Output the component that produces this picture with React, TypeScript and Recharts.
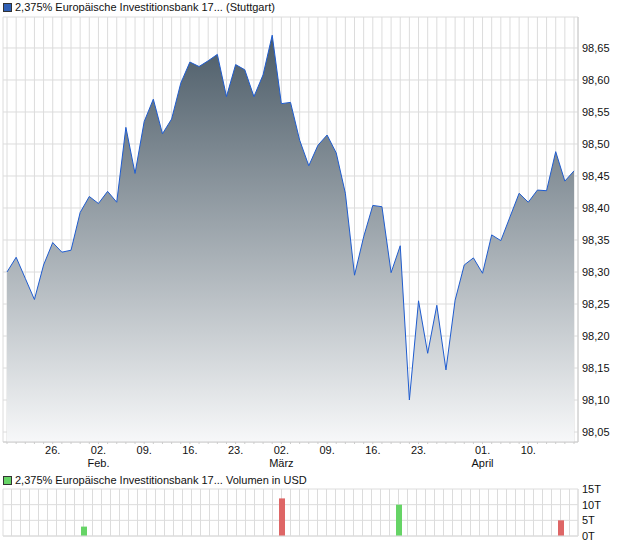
import React from "react";
import { Area, Bar, CartesianGrid, Cell, ComposedChart, XAxis, YAxis } from "recharts";

// trading days, Jan 19 – Apr 17
const dates = [
  "19.01", "20.01", "21.01", "22.01", "23.01", "26.01", "27.01", "28.01", "29.01", "30.01",
  "02.02", "03.02", "04.02", "05.02", "06.02", "09.02", "10.02", "11.02", "12.02", "13.02",
  "16.02", "17.02", "18.02", "19.02", "20.02", "23.02", "24.02", "25.02", "26.02", "27.02",
  "02.03", "03.03", "04.03", "05.03", "06.03", "09.03", "10.03", "11.03", "12.03", "13.03",
  "16.03", "17.03", "18.03", "19.03", "20.03", "23.03", "24.03", "25.03", "26.03", "27.03",
  "30.03", "31.03", "01.04", "02.04", "07.04", "08.04", "09.04", "10.04", "13.04", "14.04",
  "15.04", "16.04", "17.04",
];

const prices = [
  98.3, 98.323, 98.29, 98.257, 98.311, 98.346, 98.331, 98.334, 98.393, 98.418,
  98.407, 98.426, 98.409, 98.526, 98.454, 98.535, 98.57, 98.516, 98.539, 98.595,
  98.628, 98.621, 98.63, 98.64, 98.574, 98.624, 98.616, 98.574, 98.608, 98.67,
  98.563, 98.565, 98.506, 98.466, 98.498, 98.514, 98.486, 98.423, 98.295, 98.355,
  98.404, 98.402, 98.299, 98.341, 98.1, 98.255, 98.173, 98.248, 98.147, 98.256,
  98.311, 98.322, 98.298, 98.358, 98.349, 98.386, 98.423, 98.409, 98.428, 98.427,
  98.488, 98.442, 98.458,
];

const volumeDates = ["29.01", "02.03", "19.03", "16.04"];
const volumeValues = [3000, 12000, 10000, 5000];
const volumeUp = [true, false, true, false];

const priceTicks = [98.05, 98.1, 98.15, 98.2, 98.25, 98.3, 98.35, 98.4, 98.45, 98.5, 98.55, 98.6, 98.65];
const volumeTicks = [0, 5000, 10000, 15000];

const tickDates = ["26.01", "02.02", "09.02", "16.02", "23.02", "02.03", "09.03", "16.03", "23.03", "01.04", "10.04"];
const tickDays = ["26.", "02.", "09.", "16.", "23.", "02.", "09.", "16.", "23.", "01.", "10."];
const tickMonths = ["", "Feb.", "", "", "", "März", "", "", "", "April", ""];

const priceData = dates.map((d, i) => ({ date: d, price: prices[i] }));
const volumeData = dates.map((d) => {
  const k = volumeDates.indexOf(d);
  return { date: d, volume: k >= 0 ? volumeValues[k] : 0, up: k >= 0 ? volumeUp[k] : true };
});

const FONT = "'Liberation Sans', Arial, sans-serif";
const GRID = "#dcdcdc";
const AXIS = "#cccccc";
const PRICE_DOMAIN: [number, number] = [98.0344, 98.6984];

const DateTick = (props: any) => {
  const { x, y, payload } = props;
  const k = tickDates.indexOf(payload.value);
  if (k < 0) return <g />;
  return (
    <text x={x} y={y} textAnchor="middle" fontSize={11} fontFamily={FONT} fill="#111">
      <tspan x={x} dy={7.5}>{tickDays[k]}</tspan>
      {tickMonths[k] && <tspan x={x} dy={13.5}>{tickMonths[k]}</tspan>}
    </text>
  );
};

const NoTick = () => <g />;

const legendBox = (fill: string) => ({
  position: "absolute" as const,
  left: 3,
  width: 7,
  height: 7,
  background: fill,
  border: "1px solid #333",
});

const legendText = {
  position: "absolute" as const,
  left: 15,
  fontSize: 11,
  fontFamily: FONT,
  color: "#111",
  whiteSpace: "nowrap" as const,
  lineHeight: "13px",
};

export default function App() {
  return (
    <div style={{ position: "absolute", left: 0, top: 0, width: 620, height: 546, background: "#fff" }}>
      <div style={{ ...legendBox("#2f5fb5"), top: 3 }} />
      <div style={{ ...legendText, top: 1 }}>2,375% Europäische Investitionsbank 17... (Stuttgart)</div>

      <ComposedChart
        width={620}
        height={470}
        data={priceData}
        margin={{ top: 17, right: 0, bottom: 0, left: 3 }}
        style={{ position: "absolute", left: 0, top: 0 }}
      >
        <defs>
          <linearGradient id="priceFill" x1="0" y1="0" x2="0" y2="1">
            <stop offset="0%" stopColor="#4b5b67" />
            <stop offset="100%" stopColor="#f7f8f9" />
          </linearGradient>
        </defs>
        <CartesianGrid stroke={GRID} yAxisId="price" />
        <XAxis
          dataKey="date"
          interval={0}
          padding={{ left: 4, right: 4 }}
          height={28}
          tick={<DateTick />}
          tickSize={2}
          tickLine={{ stroke: AXIS }}
          axisLine={{ stroke: AXIS }}
        />
        <YAxis yAxisId="frame" orientation="left" width={0} domain={PRICE_DOMAIN} type="number" tick={false} tickLine={false} axisLine={{ stroke: GRID }} />
        <YAxis
          yAxisId="price"
          orientation="right"
          width={42}
          type="number"
          domain={PRICE_DOMAIN}
          ticks={priceTicks}
          interval={0}
          tickFormatter={(v: number) => v.toFixed(2).replace(".", ",")}
          tick={{ fontSize: 11, fontFamily: FONT, fill: "#111" }}
          tickLine={false}
          tickSize={2}
          tickMargin={2}
          axisLine={{ stroke: AXIS }}
        />
        <Area
          yAxisId="price"
          type="linear"
          dataKey="price"
          stroke="#1f5ccf"
          strokeWidth={1}
          fill="url(#priceFill)"
          fillOpacity={1}
          isAnimationActive={false}
          dot={false}
          activeDot={false}
        />
      </ComposedChart>

      <div style={{ ...legendBox("#66d466"), top: 476 }} />
      <div style={{ ...legendText, top: 474 }}>2,375% Europäische Investitionsbank 17... Volumen in USD</div>

      <ComposedChart
        width={620}
        height={76}
        data={volumeData}
        margin={{ top: 19, right: 0, bottom: 0, left: 3 }}
        style={{ position: "absolute", left: 0, top: 470 }}
      >
        <CartesianGrid stroke={GRID} yAxisId="vol" />
        <XAxis
          dataKey="date"
          interval={0}
          padding={{ left: 4, right: 4 }}
          height={10}
          tick={<NoTick />}
          tickLine={false}
          axisLine={{ stroke: GRID }}
        />
        <YAxis yAxisId="frame" orientation="left" width={0} domain={[0, 15000]} type="number" tick={false} tickLine={false} axisLine={{ stroke: GRID }} />
        <YAxis
          yAxisId="vol"
          orientation="right"
          width={42}
          type="number"
          domain={[0, 15000]}
          ticks={volumeTicks}
          interval={0}
          tickFormatter={(v: number) => `${v / 1000}T`}
          tick={{ fontSize: 11, fontFamily: FONT, fill: "#111" }}
          tickLine={false}
          tickSize={2}
          tickMargin={2}
          axisLine={{ stroke: GRID }}
        />
        <Bar yAxisId="vol" dataKey="volume" barSize={6} isAnimationActive={false}>
          {volumeData.map((d) => (
            <Cell key={d.date} fill={d.up ? "#66d466" : "#de6666"} />
          ))}
        </Bar>
      </ComposedChart>
    </div>
  );
}
